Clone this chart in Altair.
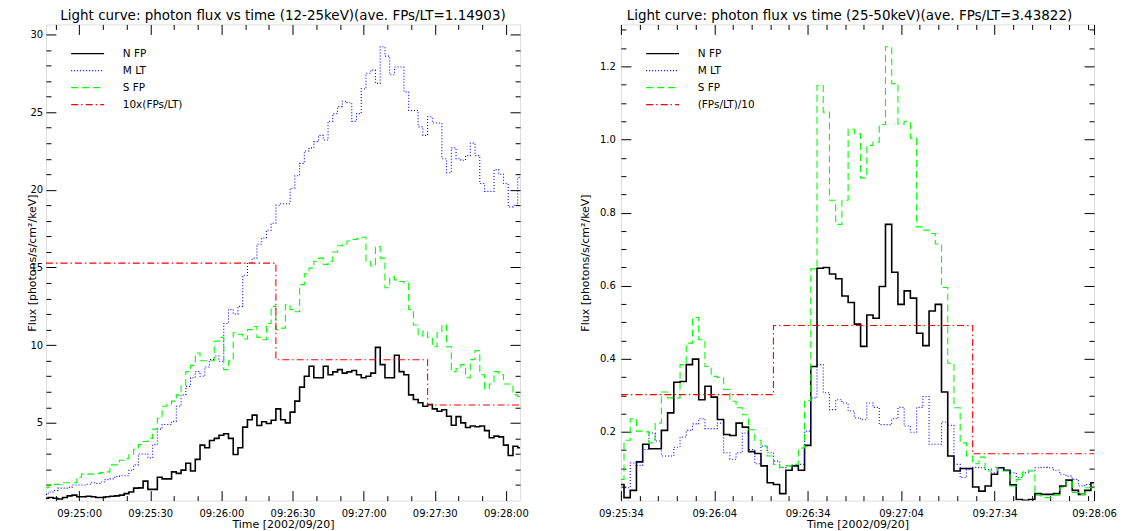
import altair as alt
import pandas as pd

FONT = "DejaVu Sans"

# ---------------- Left panel: 12-25 keV ----------------
# time in seconds after 09:24:00 (2 s bins)
l_times = list(range(46, 247, 2))
l_nfp = [0.15, 0.2, 0.15, 0.1, 0.2, 0.3, 0.35, 0.25, 0.25, 0.28,
         0.25, 0.2, 0.2, 0.25, 0.28, 0.3, 0.35, 0.45, 0.55, 0.8,
         0.82, 1.25, 0.72, 0.72, 1.5, 1.4, 1.4, 1.85, 1.75, 1.96,
         2.4, 1.9, 2.65, 3.57, 3.4, 3.87, 4.0, 4.2, 4.3, 4.0,
         2.97, 3.4, 4.73, 5.2, 5.5, 4.83, 5.07, 4.96, 5.17, 5.9,
         5.2, 5.0, 5.69, 6.4, 7.3, 8.0, 8.64, 7.9, 7.9, 8.64,
         8.1, 8.28, 8.43, 8.2, 8.28, 8.37, 8.1, 7.9, 8.0, 8.2,
         9.86, 8.75, 7.9, 7.9, 9.35, 8.3, 8.1, 6.8, 6.5, 6.3,
         6.07, 6.18, 5.9, 5.75, 5.85, 5.43, 4.85, 5.4, 5.0, 4.7,
         4.8, 4.75, 4.8, 4.5, 4.04, 4.15, 4.1, 3.57, 2.9, 3.5,
         3.4]
l_mlt = [0.4, 0.55, 0.65, 0.8, 0.8, 0.85, 1.0, 1.0, 1.0, 1.05,
         1.15, 1.1, 1.2, 1.35, 1.4, 1.55, 1.6, 1.6, 1.95, 2.3,
         3.0, 3.0, 2.75, 3.6, 4.6, 4.9, 4.9, 5.1, 6.07, 6.8,
         7.35, 7.9, 8.3, 8.0, 8.6, 9.07, 9.3, 8.97, 11.4, 12.3,
         12.0, 12.5, 14.5, 15.3, 15.6, 16.5, 16.9, 17.4, 17.85, 19.0,
         19.1, 19.1, 20.1, 20.9, 21.7, 22.5, 22.7, 23.1, 23.5, 23.2,
         24.4, 24.9, 25.35, 25.7, 25.6, 24.4, 24.9, 26.5, 27.5, 27.7,
         26.85, 29.2, 28.6, 27.4, 27.9, 27.9, 26.3, 25.1, 25.1, 24.05,
         23.5, 24.7, 24.3, 24.3, 22.0, 21.1, 22.7, 22.0, 21.9, 22.2,
         23.0, 22.2, 20.4, 19.9, 19.9, 21.3, 21.0, 20.4, 18.9, 19.0,
         20.8]
l_sfp = [0.83, 1.0, 1.04, 1.04, 1.15, 1.15, 1.15, 1.5, 1.7, 1.7,
         1.7, 1.75, 1.8, 1.85, 2.3, 2.3, 2.6, 2.7, 2.97, 3.3,
         3.6, 3.8, 4.0, 4.6, 5.3, 6.07, 6.2, 6.4, 6.8, 7.35,
         8.3, 8.7, 9.5, 9.0, 9.0, 9.0, 10.25, 10.5, 8.43, 9.0,
         10.8, 10.7, 10.4, 11.0, 11.2, 10.5, 10.35, 11.4, 12.5, 11.0,
         11.1, 12.6, 12.3, 12.15, 13.9, 14.6, 14.96, 15.4, 15.6, 15.2,
         15.4, 16.0, 16.4, 16.5, 16.7, 16.8, 16.85, 16.95, 15.4, 15.1,
         16.35, 15.6, 13.7, 14.4, 14.2, 14.1, 14.0, 12.3, 11.3, 10.6,
         10.9, 10.5, 9.9, 10.8, 11.3, 9.9, 8.3, 8.5, 8.75, 7.9,
         9.07, 9.65, 8.1, 7.2, 7.5, 8.3, 8.1, 7.5, 7.5, 6.8,
         6.7]
l_ratio_t = [46, 143, 207, 246]
l_ratio_v = [15.28, 9.06, 6.15, 6.15]
l_names = ["N FP", "M LT", "S FP", "10x(FPs/LT)"]
l_title = "Light curve: photon flux vs time (12-25keV)(ave. FPs/LT=1.14903)"

# ---------------- Right panel: 25-50 keV ----------------
r_times = list(range(94, 247, 2))
r_nfp = [0.056, 0.02, 0.04, 0.118, 0.166, 0.154, 0.154, 0.204, 0.252, 0.336,
         0.338, 0.384, 0.399, 0.288, 0.325, 0.295, 0.234, 0.193, 0.19, 0.224,
         0.213, 0.146, 0.141, 0.107, 0.061, 0.056, 0.031, 0.095, 0.107, 0.095,
         0.163, 0.379, 0.648, 0.65, 0.632, 0.619, 0.572, 0.554, 0.495, 0.434,
         0.52, 0.511, 0.598, 0.768, 0.637, 0.549, 0.586, 0.566, 0.47, 0.436,
         0.531, 0.549, 0.309, 0.134, 0.093, 0.1, 0.1, 0.049, 0.038, 0.052,
         0.084, 0.102, 0.095, 0.055, 0.015, 0.013, 0.015, 0.031, 0.029, 0.029,
         0.031, 0.052, 0.068, 0.04, 0.029, 0.04, 0.061]
r_mlt = [0.034, 0.047, 0.115, 0.108, 0.152, 0.197, 0.175, 0.134, 0.134, 0.158,
         0.186, 0.204, 0.222, 0.236, 0.209, 0.209, 0.224, 0.143, 0.125, 0.143,
         0.197, 0.152, 0.113, 0.161, 0.143, 0.12, 0.102, 0.107, 0.109, 0.111,
         0.202, 0.293, 0.384, 0.307, 0.261, 0.288, 0.279, 0.257, 0.238, 0.233,
         0.279, 0.267, 0.22, 0.22, 0.236, 0.267, 0.216, 0.199, 0.267, 0.297,
         0.166, 0.166, 0.227, 0.218, 0.111, 0.075, 0.097, 0.103, 0.102, 0.097,
         0.088, 0.102, 0.095, 0.088, 0.075, 0.088, 0.095, 0.102, 0.103, 0.102,
         0.095, 0.084, 0.079, 0.07, 0.052, 0.056, 0.06]
r_sfp = [0.07, 0.177, 0.236, 0.202, 0.2, 0.17, 0.224, 0.309, 0.293, 0.293,
         0.384, 0.443, 0.513, 0.452, 0.379, 0.352, 0.349, 0.316, 0.284, 0.266,
         0.247, 0.206, 0.177, 0.161, 0.134, 0.111, 0.103, 0.107, 0.111, 0.156,
         0.286, 0.646, 1.148, 1.075, 0.834, 0.768, 0.834, 1.028, 1.016, 0.895,
         0.984, 0.993, 1.041, 1.254, 1.153, 1.043, 1.05, 1.004, 0.761, 0.752,
         0.743, 0.714, 0.595, 0.388, 0.266, 0.17, 0.134, 0.113, 0.131, 0.093,
         0.103, 0.093, 0.093, 0.052, 0.07, 0.09, 0.093, 0.027, 0.02, 0.02,
         0.027, 0.047, 0.065, 0.034, 0.029, 0.047, 0.055]
r_ratio_t = [94, 143, 207, 246]
r_ratio_v = [0.302, 0.491, 0.140, 0.140]
r_names = ["N FP", "M LT", "S FP", "(FPs/LT)/10"]
r_title = "Light curve: photon flux vs time (25-50keV)(ave. FPs/LT=3.43822)"

# axis tick values
l_xticks = list(range(50, 241, 10))
l_yticks = list(range(1, 31))
r_major_x = [94, 124, 154, 184, 214, 246]
r_xticks = list(range(94, 246, 6)) + [246]
r_yticks = [round(0.05 * k, 2) for k in range(1, 27)]

COLORS = ["#000000", "#0000ff", "#00ff00", "#ff0000"]
DASHES = [[1, 0], [1, 2], [7, 4], [7, 3, 1.5, 3]]
H = 477

TIME_LABEL = ("'09:' + (24 + floor(datum.value / 60)) + ':' + "
              "pad(toString(datum.value % 60), 2, '0', 'left')")


def panel(times, nfp, mlt, sfp, rt, rv, names, title, title_dx, W,
          ydom, yticks, ymajor, ylabel, ytitle_x, ylabel_pad,
          xdom, xticks, xmajor):
    rows = []
    for name, vals in zip(names[:3], [nfp, mlt, sfp]):
        for t, v in zip(times, vals):
            rows.append({"t": t, "v": v, "series": name})
    df = pd.DataFrame(rows)
    dr = pd.DataFrame({"t": rt, "v": rv, "series": [names[3]] * len(rt)})

    leg = alt.Legend(
        title=None, orient="none", legendX=24.3, legendY=22.8,
        symbolType="M-3,0H3", symbolSize=121, symbolOffset=11,
        labelOffset=28.7, rowPadding=5, padding=0,
        labelFont=FONT, labelFontSize=10.5, labelColor="#000",
        symbolStrokeWidth=1.2,
    )
    color = alt.Color("series:N", scale=alt.Scale(domain=names, range=COLORS), legend=leg)
    dash = alt.StrokeDash("series:N", scale=alt.Scale(domain=names, range=DASHES), legend=leg)
    width = alt.condition("datum.series === 'N FP'", alt.value(1.6), alt.value(1.1))

    xaxis = alt.Axis(
        values=xticks, title="Time [2002/09/20]",
        labelExpr=f"{xmajor} ? {TIME_LABEL} : ''",
        labelOverlap=False, labelFlush=False, ticks=False, tickSize=0,
        domain=False, grid=True, gridColor="#000", gridOpacity=1, gridWidth=1,
        gridDash={"condition": {"test": xmajor, "value": [10, H - 20, 10, 3000]},
                  "value": [5, H - 10, 5, 3000]},
        labelPadding=8, labelFont=FONT, labelFontSize=10, labelColor="#000",
        titleFont=FONT, titleFontSize=11, titleFontWeight="normal", titleColor="#000",
        titleY=27, titleBaseline="alphabetic",
    )
    yaxis = alt.Axis(
        values=yticks, title="Flux [photons/s/cm²/keV]",
        labelExpr=f"{ymajor} ? {ylabel} : ''",
        labelOverlap=False, labelFlush=False, ticks=False, tickSize=0,
        domain=False, grid=True, gridColor="#000", gridOpacity=1, gridWidth=1,
        gridDash={"condition": {"test": ymajor, "value": [10, W - 20, 10, 3000]},
                  "value": [5, W - 10, 5, 3000]},
        labelPadding=ylabel_pad, labelFont=FONT, labelFontSize=10, labelColor="#000",
        titleFont=FONT, titleFontSize=11, titleFontWeight="normal", titleColor="#000",
        titleAngle=270, titleAlign="center", titleBaseline="middle",
        titleX=ytitle_x, titleY=H / 2,
    )
    x = alt.X("t:Q", scale=alt.Scale(domain=xdom, nice=False, zero=False), axis=xaxis)
    y = alt.Y("v:Q", scale=alt.Scale(domain=ydom, nice=False, zero=False), axis=yaxis)

    lines = alt.Chart(df).mark_line(interpolate="step", clip=True).encode(
        x=x, y=y, color=color, strokeDash=dash, strokeWidth=width,
        detail="series:N")
    ratio = alt.Chart(dr).mark_line(interpolate="step-after", clip=True).encode(
        x=x, y=y, color=color, strokeDash=dash, strokeWidth=width)

    return alt.layer(lines, ratio).properties(
        width=W, height=H,
        title=alt.TitleParams(text=title, font=FONT, fontSize=13.5, fontWeight="normal",
                              color="#000", anchor="middle", offset=-9.5,
                              baseline="alphabetic", frame="group", dx=title_dx),
    )


left = panel(l_times, l_nfp, l_mlt, l_sfp, l_ratio_t, l_ratio_v, l_names, l_title, 0, 475,
             [0, 30.64], l_yticks, "datum.value % 5 === 0", "datum.label", -13.5, 3.3,
             [46, 246], l_xticks, "datum.value % 30 === 0")
right = panel(r_times, r_nfp, r_mlt, r_sfp, r_ratio_t, r_ratio_v, r_names, r_title, -8, 474,
              [0.012, 1.315], r_yticks,
              "abs(datum.value * 5 - round(datum.value * 5)) < 0.000001",
              "format(datum.value, '.1f')", -35.8, 5.6,
              [94, 246], r_xticks, f"indexof({r_major_x}, datum.value) >= 0")

chart = alt.hconcat(left, right, spacing=49).resolve_scale(
    x="independent", y="independent", color="independent", strokeDash="independent"
).resolve_legend(color="independent", strokeDash="independent").properties(
    padding={"left": 18, "top": 0, "right": 0, "bottom": 0}
).configure_view(stroke="#000", strokeWidth=1).configure(font=FONT, background="white")

chart.save("out.html", embed_options={"renderer": "svg", "actions": False})
